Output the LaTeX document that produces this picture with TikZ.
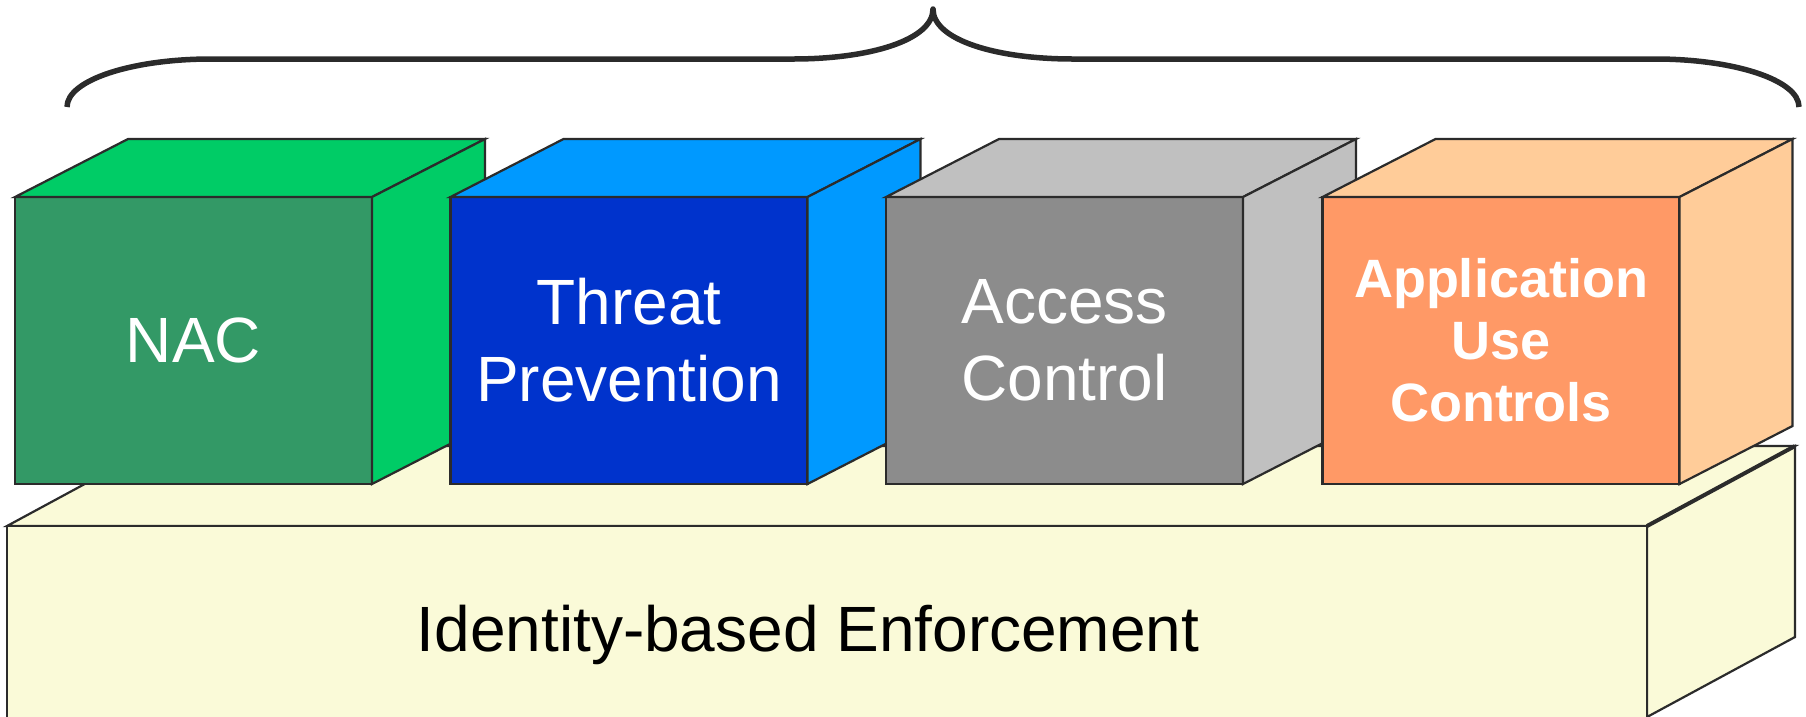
\documentclass[tikz,border=0pt]{standalone}
\usepackage{fontspec}
\setmainfont{Liberation Sans}
\definecolor{edge}{HTML}{2B2B2B}
\definecolor{nacfront}{HTML}{339966}
\definecolor{nacside}{HTML}{00CC66}
\definecolor{tpfront}{HTML}{0033CC}
\definecolor{tpside}{HTML}{0099FF}
\definecolor{acfront}{HTML}{8C8C8C}
\definecolor{acside}{HTML}{C0C0C0}
\definecolor{aufront}{HTML}{FF9966}
\definecolor{auside}{HTML}{FFCC99}
\definecolor{basefill}{HTML}{FAFAD8}
\begin{document}
\begin{tikzpicture}[x=1pt,y=1pt,
  face/.style={draw=edge, line width=2.2pt, line join=miter},
  front/.style={face, minimum width=357pt, minimum height=287pt, inner sep=0pt, outer sep=0pt,
    text=white, align=center, font=\fontsize{64}{77}\selectfont},
  boldfront/.style={front, font=\fontsize{54}{62}\selectfont\bfseries},
  brace/.style={draw=edge, line width=5.5pt, line join=round}]

\useasboundingbox (0,0) rectangle (1806,-716);
\clip (0,0) rectangle (1806,-716);

% base block
\coordinate (bfl) at (7,-526);
\coordinate (bfr) at (1647,-526);
\coordinate (bbr) at (1795,-446);
\coordinate (bbl) at (155,-446);
\draw[face, fill=basefill] (bfl) -- (bbl) -- (bbr) -- (bfr) -- cycle;
\draw[face, fill=basefill] (bfr) -- (bbr) -- ++(0,-191) -- ++(-148,-80) -- cycle;
\draw[draw=edge, line width=4pt] (bfr) -- (bbr);
\draw[face, fill=basefill] (7,-740) -- (bfl) -- (bfr) -- (1647,-740);
\node[anchor=base, font=\fontsize{64}{77}\selectfont, text=black, inner sep=0pt] (idlabel) at (808,-651) {Identity-based Enforcement};

% NAC
\node[front, fill=nacfront] (nac) at (193.5,-340.5) {NAC};
\draw[face, fill=nacside] (nac.north west) -- ++(113,58) -- ++(357,0) -- (nac.north east) -- cycle;
\draw[face, fill=nacside] (nac.north east) -- ++(113,58) -- ++(0,-287) -- (nac.south east) -- cycle;

% Threat Prevention
\node[front, fill=tpfront] (tp) at (629,-340.5) {Threat\\Prevention};
\draw[face, fill=tpside] (tp.north west) -- ++(113,58) -- ++(357,0) -- (tp.north east) -- cycle;
\draw[face, fill=tpside] (tp.north east) -- ++(113,58) -- ++(0,-287) -- (tp.south east) -- cycle;

% Access Control
\node[front, fill=acfront] (ac) at (1064.5,-340.5) {Access\\Control};
\draw[face, fill=acside] (ac.north west) -- ++(113,58) -- ++(357,0) -- (ac.north east) -- cycle;
\draw[face, fill=acside] (ac.north east) -- ++(113,58) -- ++(0,-287) -- (ac.south east) -- cycle;

% Application Use Controls
\node[boldfront, fill=aufront] (au) at (1501,-340.5) {Application\\Use\\Controls};
\draw[face, fill=auside] (au.north west) -- ++(113,58) -- ++(357,0) -- (au.north east) -- cycle;
\draw[face, fill=auside] (au.north east) -- ++(113,58) -- ++(0,-287) -- (au.south east) -- cycle;

% brace
\draw[brace] (67,-107) .. controls (67,-80) and (132,-59) .. (211,-59) -- (793,-59)
  .. controls (870,-59) and (933,-40) .. (933,-9)
  .. controls (933,-40) and (996,-59) .. (1073,-59) -- (1655,-59)
  .. controls (1734,-59) and (1799,-80) .. (1799,-107);
\end{tikzpicture}
\end{document}
